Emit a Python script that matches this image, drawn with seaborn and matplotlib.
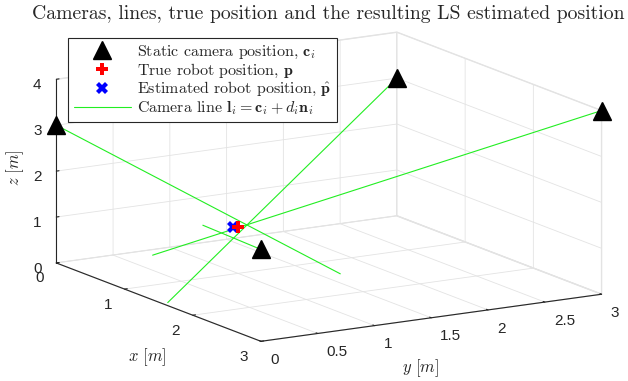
import numpy as np
import matplotlib
matplotlib.use('Agg')
import matplotlib.pyplot as plt
import seaborn as sns
from matplotlib.lines import Line2D

# ------------------------------------------------------------
# Données (m)
# ------------------------------------------------------------
# positions des caméras statiques c_i
cam_x = [0, 0, 3, 3]
cam_y = [0, 3, 3, 0]
cam_z = [3, 3, 4, 2]

# extrémités des lignes caméra l_i = c_i + d_i n_i
end_x = [1.5, 1.6, 0.53, 0.8]
end_y = [1.6, 0.02, 0.53, 0.81]
end_z = [0.07, 0.04, 0.29, 1.0]

# position vraie et estimée du robot
vrai_pos = [1.0, 1.0, 1.0]
estim_pos = [1.0, 0.955, 1.035]

x_ticks = [0, 1, 2, 3]
y_ticks = [0, 0.5, 1, 1.5, 2, 2.5, 3]
z_ticks = [0, 1, 2, 3, 4]

# ------------------------------------------------------------
# Style
# ------------------------------------------------------------
sns.set_style('white')
plt.rcParams['font.family'] = ['Liberation Sans', 'DejaVu Sans']
plt.rcParams['mathtext.fontset'] = 'cm'
plt.rcParams['grid.color'] = '#e3e3e3'
plt.rcParams['grid.linewidth'] = 0.6
gris = '#262626'
serif = 'cmr10'

fig = plt.figure(figsize=(6.28, 3.81), dpi=100)
ax = fig.add_axes([0.016, 0.022, 1.0, 0.95], projection='3d', computed_zorder=False)
ax.set_proj_type('ortho')
ax.view_init(elev=13.3, azim=-31)
ax.set_box_aspect((1, 1, 0.475), zoom=1.59)

# lignes caméra
for i in range(len(cam_x)):
    ax.plot([cam_x[i], end_x[i]], [cam_y[i], end_y[i]], [cam_z[i], end_z[i]],
            color='#22ee22', linewidth=0.8, clip_on=False)

# caméras, robot estimé puis vrai (le vrai par-dessus)
ax.plot(cam_x, cam_y, cam_z, linestyle='none', marker='^', color='black', markersize=13,
        clip_on=False)
ax.plot([estim_pos[0]], [estim_pos[1]], [estim_pos[2]], linestyle='none', marker='X',
        color='blue', markersize=8, markeredgewidth=0, clip_on=False)
ax.plot([vrai_pos[0]], [vrai_pos[1]], [vrai_pos[2]], linestyle='none', marker='P',
        color='red', markersize=8, markeredgewidth=0, clip_on=False)

ax.set_xlim(0, 3)
ax.set_ylim(0, 3)
ax.set_zlim(0, 4)
ax.set_xticks(x_ticks)
ax.set_yticks(y_ticks)
ax.set_zticks(z_ticks)
ax.set_yticklabels(['0', '0.5', '1', '1.5', '2', '2.5', '3'], ha='left')
ax.set_xticklabels(['0', '1', '2', '3'], ha='right')
ax.tick_params(labelsize=11, colors=gris)
ax.xaxis.set_tick_params(pad=-3)
ax.yaxis.set_tick_params(pad=-2)
ax.zaxis.set_tick_params(pad=-3.25)
ax.zaxis.set_ticks_position('lower')

for a in (ax.xaxis, ax.yaxis, ax.zaxis):
    a.set_pane_color((1, 1, 1, 1))
    a.pane.set_edgecolor('#e3e3e3')
    a.line.set_color(gris)
    a.line.set_linewidth(0.8)
    a._axinfo['tick']['inward_factor'] = 0.0
    a._axinfo['tick']['outward_factor'] = 0.1

# étiquettes d'axes placées à la main
fig.text(147 / 628, 1 - 357 / 381, r'$x\ [m]$', fontsize=12, color=gris, ha='center', va='center')
fig.text(420 / 628, 1 - 368 / 381, r'$y\ [m]$', fontsize=12, color=gris, ha='center', va='center')
fig.text(15 / 628, 1 - 168 / 381, r'$z\ [m]$', fontsize=12, color=gris, ha='center', va='center',
         rotation=90)

fig.suptitle('Cameras, lines, true position and the resulting LS estimated position',
             fontfamily=serif, fontsize=14.2, x=328 / 628, y=1 - 14 / 381, va='center')

poignees = [
    Line2D([], [], linestyle='none', marker='^', color='black', markersize=13),
    Line2D([], [], linestyle='none', marker='P', color='red', markersize=8, markeredgewidth=0),
    Line2D([], [], linestyle='none', marker='X', color='blue', markersize=8, markeredgewidth=0),
    Line2D([], [], color='#22ee22', linewidth=0.8),
]
etiquettes = [r'Static camera position, $\mathbf{c}_i$',
              r'True robot position, $\mathbf{p}$',
              r'Estimated robot position, $\hat{\mathbf{p}}$',
              r'Camera line $\mathbf{l}_i = \mathbf{c}_i + d_i\mathbf{n}_i$']
leg = fig.legend(poignees, etiquettes, loc='upper left', bbox_to_anchor=(68 / 628, 1 - 38 / 381),
                 borderaxespad=0, prop={'family': serif, 'size': 11.5}, frameon=True,
                 fancybox=False, edgecolor=gris, framealpha=1, handlelength=3.6,
                 handletextpad=0.35, borderpad=0.35, labelspacing=0.05)
leg.get_frame().set_linewidth(0.8)

fig.savefig('out.png', dpi=100)
